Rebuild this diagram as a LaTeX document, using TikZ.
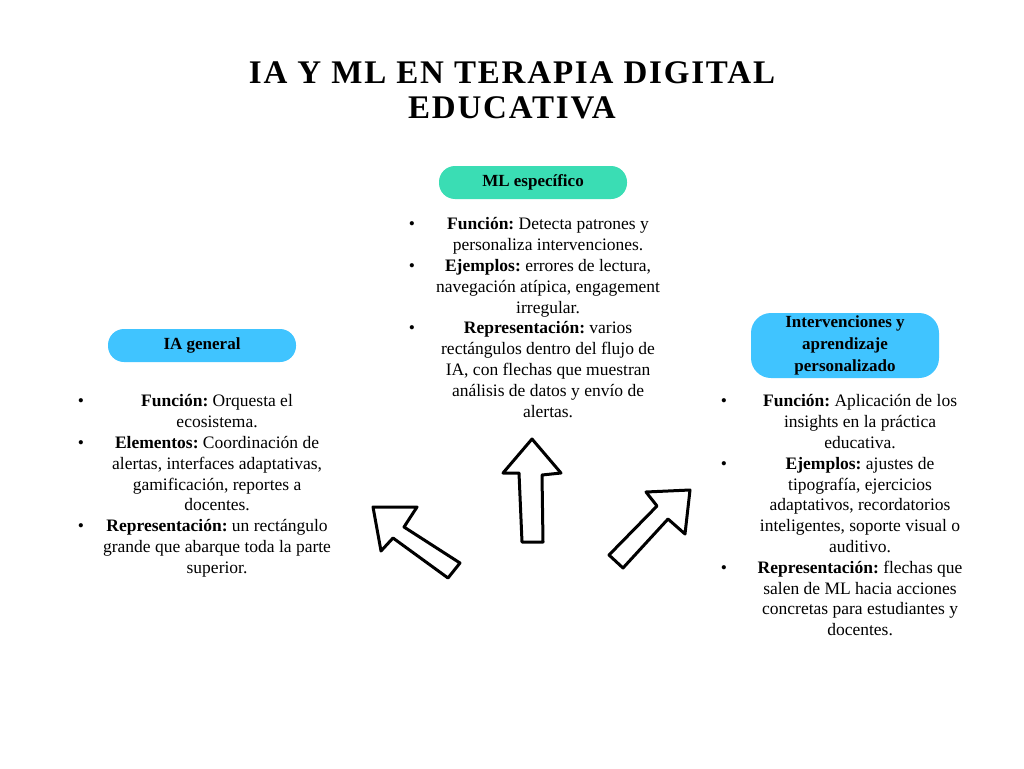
\documentclass[tikz,border=0pt]{standalone}
\usepackage{fontspec}
\setmainfont{Liberation Serif}
\usepackage{array}
\usetikzlibrary{positioning}

\definecolor{mlgreen}{HTML}{3ADDB4}
\definecolor{iablue}{HTML}{40C4FF}

\newcolumntype{C}{>{\centering\arraybackslash}p{250pt}}
\frenchspacing

\tikzset{
  pill/.style={fill=#1, rounded corners=16pt, minimum width=188pt,
               minimum height=33pt, inner sep=2pt, align=center,
               font=\fontsize{17}{22}\selectfont\bfseries},
  list/.style={inner sep=0pt, font=\fontsize{17.5}{20.8}\selectfont},
  blockarrow/.style={draw=black, fill=white, line width=3pt, line join=round}
}

\begin{document}
\begin{tikzpicture}[x=1pt,y=-1pt]
  \fill[white] (0,0) rectangle (1024,768);
  \useasboundingbox (0,0) rectangle (1024,768);

  \node (title) [anchor=north, inner sep=0pt, align=center,
        font=\fontsize{33}{35}\selectfont\bfseries\addfontfeature{LetterSpace=5.5}]
        at (512,61) {IA Y ML EN TERAPIA DIGITAL\\EDUCATIVA};

  \node[pill=mlgreen] (mlesp)  at (533,182.5) {ML específico};
  \node[pill=iablue]  (iagen)  at (202,345.5) {IA general};
  \node[pill=iablue, minimum height=65pt, rounded corners=20pt] (interv)
        at (845,345.5) {Intervenciones y\\aprendizaje\\personalizado};

  \node[list, below=16pt of mlesp, xshift=8pt] (mltext) {%
    \begin{tabular}{@{}c@{\hspace{8pt}}C@{}}
      \textbullet & \textbf{Función:} Detecta patrones y\\
                  & personaliza intervenciones.\\
      \textbullet & \textbf{Ejemplos:} errores de lectura,\\
                  & navegación atípica, engagement\\
                  & irregular.\\
      \textbullet & \textbf{Representación:} varios\\
                  & rectángulos dentro del flujo de\\
                  & IA, con flechas que muestran\\
                  & análisis de datos y envío de\\
                  & alertas.
    \end{tabular}};

  \node[list, below=30pt of iagen, xshift=8pt] (iatext) {%
    \begin{tabular}{@{}c@{\hspace{8pt}}C@{}}
      \textbullet & \textbf{Función:} Orquesta el\\
                  & ecosistema.\\
      \textbullet & \textbf{Elementos:} Coordinación de\\
                  & alertas, interfaces adaptativas,\\
                  & gamificación, reportes a\\
                  & docentes.\\
      \textbullet & \textbf{Representación:} un rectángulo\\
                  & grande que abarque toda la parte\\
                  & superior.
    \end{tabular}};

  \node[list, below=14pt of interv, xshift=8pt] (intervtext) {%
    \begin{tabular}{@{}c@{\hspace{8pt}}C@{}}
      \textbullet & \textbf{Función:} Aplicación de los\\
                  & insights en la práctica\\
                  & educativa.\\
      \textbullet & \textbf{Ejemplos:} ajustes de\\
                  & tipografía, ejercicios\\
                  & adaptativos, recordatorios\\
                  & inteligentes, soporte visual o\\
                  & auditivo.\\
      \textbullet & \textbf{Representación:} flechas que\\
                  & salen de ML hacia acciones\\
                  & concretas para estudiantes y\\
                  & docentes.
    \end{tabular}};

  % block arrows
  \draw[blockarrow] (373,507) -- (417,507) -- (404,527) -- (460,563)
        -- (448,578) -- (393,538) -- (381,551) -- cycle;
  \draw[blockarrow] (532,439) -- (561,473) -- (542,475) -- (543,542)
        -- (522,542) -- (519,473) -- (503,473) -- cycle;
  \draw[blockarrow] (690,490) -- (685,534) -- (668,519) -- (623,568)
        -- (609,555) -- (657,506) -- (646,492) -- cycle;
\end{tikzpicture}
\end{document}
